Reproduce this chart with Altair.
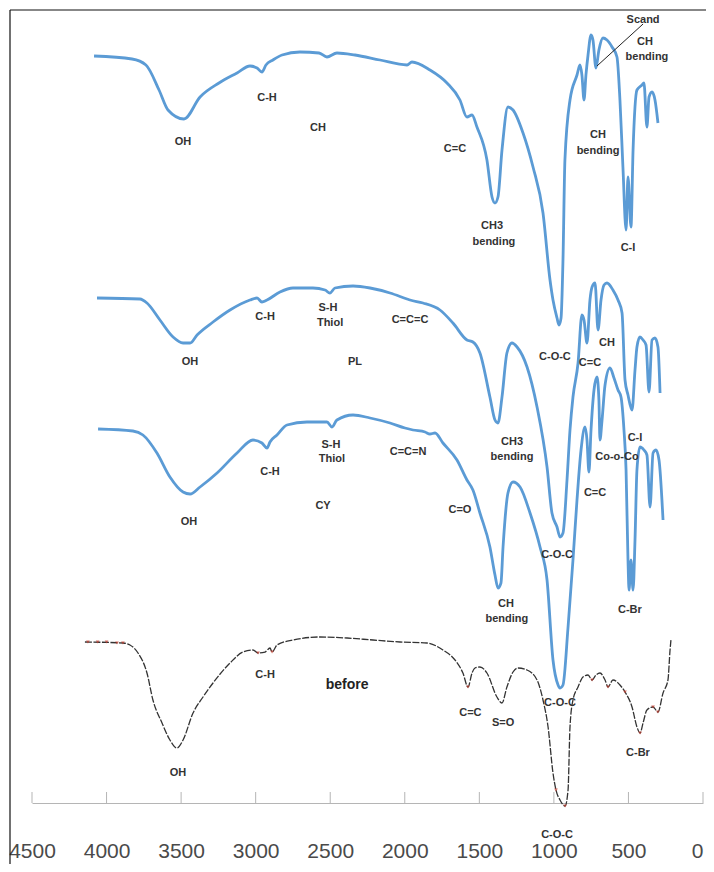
import altair as alt
import pandas as pd

# ---------------- data (wavenumber cm-1, offset transmittance a.u.) ----------------
wn_top = [4084, 3829, 3736, 3648, 3588, 3481, 3373, 3246, 3125, 3038,
          2991, 2958, 2931, 2884, 2823, 2703, 2575, 2522, 2455, 2334,
          2166, 1985, 1952, 1831, 1717, 1630, 1583, 1549, 1516, 1449,
          1415, 1395, 1375, 1348, 1308, 1274, 1207, 1140, 1073, 1026,
          1006, 979, 966, 952, 939, 926, 892, 845, 825, 812,
          798, 785, 771, 751, 738, 718, 698, 671, 644, 610,
          577, 557, 537, 516, 503, 483, 469, 443, 409, 396,
          376, 362, 342, 322, 302]
t_top = [747, 744, 738, 713, 693, 684, 706, 720, 730, 737,
         735, 731, 738, 743, 748, 751, 750, 746, 750, 748,
         743, 738, 741, 733, 720, 703, 686, 688, 676, 643,
         606, 600, 606, 653, 696, 693, 670, 636, 590, 523,
         503, 485, 478, 485, 543, 643, 703, 728, 738, 728,
         703, 728, 748, 768, 763, 735, 753, 765, 763, 756,
         746, 703, 636, 573, 626, 576, 653, 713, 718, 720,
         676, 706, 711, 703, 680]

wn_pl = [4064, 3776, 3729, 3642, 3554, 3487, 3440, 3393, 3286, 3172,
         3038, 2991, 2958, 2924, 2837, 2750, 2616, 2535, 2502, 2468,
         2347, 2233, 2099, 1985, 1965, 1878, 1764, 1677, 1583, 1543,
         1496, 1429, 1395, 1375, 1348, 1315, 1281, 1247, 1180, 1113,
         1046, 1013, 979, 959, 939, 912, 892, 872, 838, 812,
         798, 778, 758, 744, 724, 704, 684, 664, 644, 604,
         570, 543, 523, 503, 476, 456, 443, 423, 402, 382,
         362, 342, 322, 302, 288]
t_pl = [505, 504, 500, 483, 466, 460, 460, 468, 481, 493,
        503, 505, 501, 503, 511, 515, 515, 513, 510, 515,
        517, 515, 510, 504, 503, 500, 493, 480, 463, 461,
        450, 406, 383, 380, 406, 450, 460, 456, 436, 396,
        336, 290, 276, 266, 270, 323, 373, 406, 440, 488,
        483, 460, 503, 516, 520, 473, 503, 518, 520, 513,
        503, 490, 423, 408, 393, 433, 456, 466, 463, 458,
        411, 463, 465, 456, 410]

wn_cy = [4057, 3823, 3756, 3662, 3575, 3487, 3440, 3373, 3259, 3125,
         3018, 2958, 2924, 2904, 2857, 2790, 2656, 2522, 2488, 2455,
         2347, 2233, 2099, 1999, 1945, 1864, 1831, 1797, 1744, 1650,
         1583, 1543, 1496, 1429, 1395, 1375, 1355, 1341, 1308, 1274,
         1227, 1160, 1093, 1046, 1006, 972, 959, 939, 905, 872,
         845, 818, 791, 778, 765, 751, 731, 711, 698, 691,
         677, 657, 624, 597, 570, 550, 530, 516, 503, 496,
         483, 469, 456, 443, 423, 396, 376, 355, 335, 315,
         295, 268]
t_cy = [374, 372, 368, 350, 326, 311, 309, 316, 330, 350,
        363, 360, 355, 361, 368, 378, 381, 381, 376, 383,
        388, 385, 380, 375, 373, 371, 369, 370, 360, 343,
        323, 313, 290, 256, 228, 215, 220, 256, 310, 321,
        316, 290, 256, 223, 143, 118, 115, 118, 176, 243,
        303, 353, 376, 363, 331, 373, 413, 426, 403, 363,
        383, 418, 435, 425, 413, 406, 373, 333, 243, 213,
        243, 213, 263, 333, 356, 353, 348, 296, 350, 353,
        343, 283]

wn_before = [4145, 3890, 3843, 3789, 3729, 3689, 3628, 3575, 3528, 3487,
             3420, 3353, 3286, 3172, 3085, 3018, 2984, 2937, 2904, 2890,
             2857, 2750, 2569, 2387, 2213, 2032, 1851, 1744, 1663, 1610,
             1576, 1549, 1529, 1496, 1449, 1382, 1348, 1315, 1274, 1241,
             1180, 1113, 1073, 1039, 1006, 986, 959, 925, 905, 892,
             872, 838, 805, 771, 744, 718, 691, 657, 637, 604,
             557, 523, 476, 443, 422, 402, 376, 335, 302, 268,
             235, 221, 215]
t_before = [161, 160, 158, 150, 130, 103, 80, 63, 55, 63,
            90, 106, 120, 140, 151, 153, 150, 151, 155, 151,
            158, 163, 166, 165, 163, 161, 160, 153, 143, 130,
            116, 130, 135, 136, 130, 106, 100, 116, 131, 135,
            133, 123, 103, 76, 30, 13, 3, -3, 13, 76,
            103, 116, 126, 128, 123, 128, 130, 123, 116, 123,
            118, 111, 96, 76, 70, 80, 93, 96, 91, 110,
            123, 153, 163]

red_wn = [4125, 4060, 4000, 3930, 3890, 2984, 2890, 1576, 986, 925, 744, 637, 523, 422, 335, 302]
red_t = [161, 161, 161, 160, 160, 150, 151, 116, 13, -3, 123, 116, 111, 70, 96, 91]

label_text = ["OH", "C-H", "CH", "C=C", "CH3", "bending", "CH", "bending", "C-I", "Scand", "CH", "bending",
              "OH", "C-H", "S-H", "Thiol", "C=C=C", "PL", "CH3", "bending", "C-O-C", "C=C", "CH", "C-I",
              "OH", "C-H", "S-H", "Thiol", "C=C=N", "CY", "C=O", "CH", "bending", "C-O-C", "C=C", "Co-o-Co", "C-Br",
              "OH", "C-H", "C=C", "S=O", "C-O-C", "C-Br", "C-O-C"]
label_wn = [3487, 2924, 2582, 1663, 1415, 1402, 704, 704, 503, 402, 389, 376,
            3440, 2937, 2515, 2501, 1965, 2334, 1281, 1281, 993, 758, 644, 456,
            3447, 2904, 2495, 2488, 1978, 2548, 1630, 1321, 1315, 979, 724, 577, 490,
            3521, 2937, 1560, 1341, 959, 436, 979]
label_t = [661, 705, 675, 654, 577, 561, 668, 652, 555, 783, 761, 746,
           441, 486, 495, 480, 483, 441, 361, 346, 446, 440, 460, 365,
           281, 331, 358, 344, 351, 297, 293, 199, 184, 248, 310, 346, 193,
           30, 128, 90, 80, 100, 50, -32]

before_label = ["before"]
before_label_wn = [2387]
before_label_t = [118]

scand_wn = [402, 711]
scand_t = [779, 737]

tick_values = [4500, 4000, 3500, 3000, 2500, 2000, 1500, 1000, 500, 0]

# ---------------- tables ----------------
rows = []
for name, ws, ts in [("top", wn_top, t_top), ("PL", wn_pl, t_pl), ("CY", wn_cy, t_cy)]:
    for i, (w, t) in enumerate(zip(ws, ts)):
        rows.append({"series": name, "i": i, "wn": w, "t": t})
blue_df = pd.DataFrame(rows)
before_df = pd.DataFrame({"i": list(range(len(wn_before))), "wn": wn_before, "t": t_before})
red_df = pd.DataFrame({"wn": red_wn, "t": red_t})
lab_df = pd.DataFrame({"label": label_text, "wn": label_wn, "t": label_t})
before_lab_df = pd.DataFrame({"label": before_label, "wn": before_label_wn, "t": before_label_t})
scand_df = pd.DataFrame({"i": [0, 1], "wn": scand_wn, "t": scand_t})
tick_df = pd.DataFrame({"wn": tick_values})
one = pd.DataFrame({"a": [0]})

xaxis = alt.Axis(values=tick_values, format="d", title=None, grid=False, ticks=False,
                 domainColor="#b5b5b5", domainWidth=1, labelFont="Liberation Sans",
                 labelFontSize=21, labelColor="#4a4a4a", labelPadding=37, labelFlush=False,
                 labelOverlap=False,
                 labelAlign=alt.ExprRef(expr="datum.value == 0 ? 'right' : 'center'"))
X = alt.X("wn:Q", scale=alt.Scale(domain=[0, 4500], reverse=True, nice=False, zero=False), axis=xaxis)
Y = alt.Y("t:Q", scale=alt.Scale(domain=[0, 793], nice=False, zero=False), axis=None)

blue = alt.Chart(blue_df).mark_line(color="#5b9bd5", strokeWidth=2.8, interpolate="monotone").encode(
    x=X, y=Y, detail="series:N", order="i:Q")
before = alt.Chart(before_df).mark_line(color="#333333", strokeWidth=1.3, strokeDash=[7, 1.5],
                                        interpolate="monotone").encode(x=X, y=Y, order="i:Q")
red = alt.Chart(red_df).mark_point(shape="triangle-down", color="#c0392b", size=14, filled=True).encode(x=X, y=Y)
ticks = alt.Chart(tick_df).mark_rule(color="#b5b5b5").encode(x=X, y=alt.value(782), y2=alt.value(793))
labels = alt.Chart(lab_df).mark_text(font="Liberation Sans", fontWeight="bold", fontSize=11,
                                     color="#333333", align="center", baseline="middle").encode(
    x=X, y=Y, text="label:N")
before_lab = alt.Chart(before_lab_df).mark_text(font="Liberation Sans", fontWeight="bold", fontSize=14,
                                                color="#222222", align="center", baseline="middle").encode(
    x=X, y=Y, text="label:N")
scand = alt.Chart(scand_df).mark_line(color="#222222", strokeWidth=1).encode(x=X, y=Y, order="i:Q")
frame_top = alt.Chart(one).mark_rule(color="#111111", strokeWidth=1.2).encode(
    x=alt.value(-22), x2=alt.value(690), y=alt.value(0))
frame_left = alt.Chart(one).mark_rule(color="#111111", strokeWidth=1.2).encode(
    x=alt.value(-22), y=alt.value(0), y2=alt.value(870))

chart = alt.layer(ticks, blue, before, red, scand, labels, before_lab, frame_top, frame_left).properties(
    width=671, height=793,
    padding={"left": 24, "top": 2, "right": 3, "bottom": 61},
    autosize=alt.AutoSizeParams(type="none"),
).configure_view(stroke=None)

chart.save("out.html", embed_options={"renderer": "svg", "actions": False})
